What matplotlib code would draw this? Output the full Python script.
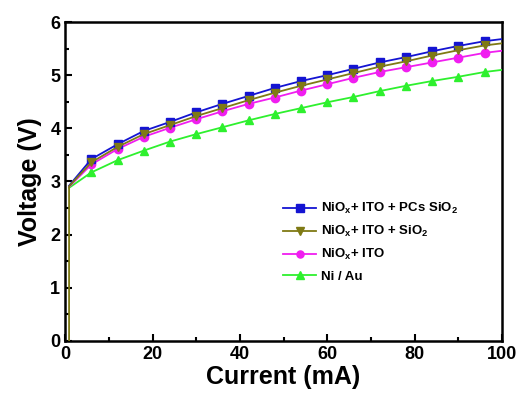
import numpy as np
import matplotlib
matplotlib.use('Agg')
import matplotlib.pyplot as plt
from matplotlib.ticker import MultipleLocator

plt.rcParams['font.family'] = ['Liberation Sans', 'DejaVu Sans']
plt.rcParams['font.weight'] = 'bold'
plt.rcParams['mathtext.fontset'] = 'custom'
plt.rcParams['mathtext.rm'] = 'Liberation Sans:bold'
plt.rcParams['mathtext.bf'] = 'Liberation Sans:bold'

# current (mA)
current = [0.9, 0.9, 6, 12, 18, 24, 30, 36, 42, 48, 54, 60, 66, 72, 78, 84, 90, 96, 100]

v_pcs = [2.92, 2.92, 3.42, 3.70, 3.95, 4.12, 4.30, 4.46, 4.61, 4.76, 4.89, 5.00, 5.12,
         5.24, 5.34, 5.45, 5.55, 5.64, 5.68]
v_sio2 = [0.0, 2.91, 3.36, 3.65, 3.89, 4.06, 4.23, 4.38, 4.53, 4.67, 4.80, 4.92, 5.04,
          5.16, 5.26, 5.37, 5.47, 5.56, 5.60]
v_ito = [2.90, 2.90, 3.32, 3.61, 3.84, 4.01, 4.17, 4.32, 4.46, 4.58, 4.71, 4.83, 4.95,
         5.06, 5.15, 5.24, 5.33, 5.42, 5.46]
v_niau = [2.88, 2.88, 3.17, 3.40, 3.58, 3.75, 3.89, 4.02, 4.15, 4.27, 4.38, 4.49, 4.59,
          4.70, 4.80, 4.89, 4.97, 5.06, 5.10]

labels = [r'NiO$_\mathregular{x}$+ ITO + PCs SiO$_\mathregular{2}$',
          r'NiO$_\mathregular{x}$+ ITO + SiO$_\mathregular{2}$',
          r'NiO$_\mathregular{x}$+ ITO',
          'Ni / Au']
colors = ['#1414d2', '#7f7a14', '#f01ef0', '#2ef02e']
markers = ['s', 'v', 'o', '^']
series = [v_pcs, v_sio2, v_ito, v_niau]
zorders = [5, 6, 4, 3]

fig = plt.figure(figsize=(5.17, 3.94), dpi=100)
ax = fig.add_axes([0.126, 0.135, 0.845, 0.809])

mark_idx = list(range(2, len(current) - 1))
for v, c, m, lab, z in zip(series, colors, markers, labels, zorders):
    ax.plot(current, v, color=c, lw=1.3, marker=m, markersize=6,
            markevery=mark_idx, label=lab, zorder=z)

ax.set_xlim(0, 100)
ax.set_ylim(0, 6)
ax.xaxis.set_major_locator(MultipleLocator(20))
ax.xaxis.set_minor_locator(MultipleLocator(10))
ax.yaxis.set_major_locator(MultipleLocator(1))
ax.yaxis.set_minor_locator(MultipleLocator(0.5))
ax.tick_params(which='both', direction='in', labelsize=13, width=1.5)
ax.tick_params(which='major', length=5)
ax.tick_params(which='minor', length=3)
for s in ax.spines.values():
    s.set_linewidth(1.8)
for t in ax.get_xticklabels() + ax.get_yticklabels():
    t.set_fontweight('bold')

ax.set_xlabel('Current (mA)', fontsize=18, fontweight='bold', labelpad=2)
ax.set_ylabel('Voltage (V)', fontsize=18, fontweight='bold', labelpad=6)

ax.legend(loc='center left', bbox_to_anchor=(0.499, 0.31), frameon=False,
          prop={'size': 9.5, 'weight': 'bold'}, handlelength=2.5, labelspacing=0.6,
          handletextpad=0.4, borderpad=0, borderaxespad=0, markerscale=0.85)

fig.savefig('out.png', dpi=100)
